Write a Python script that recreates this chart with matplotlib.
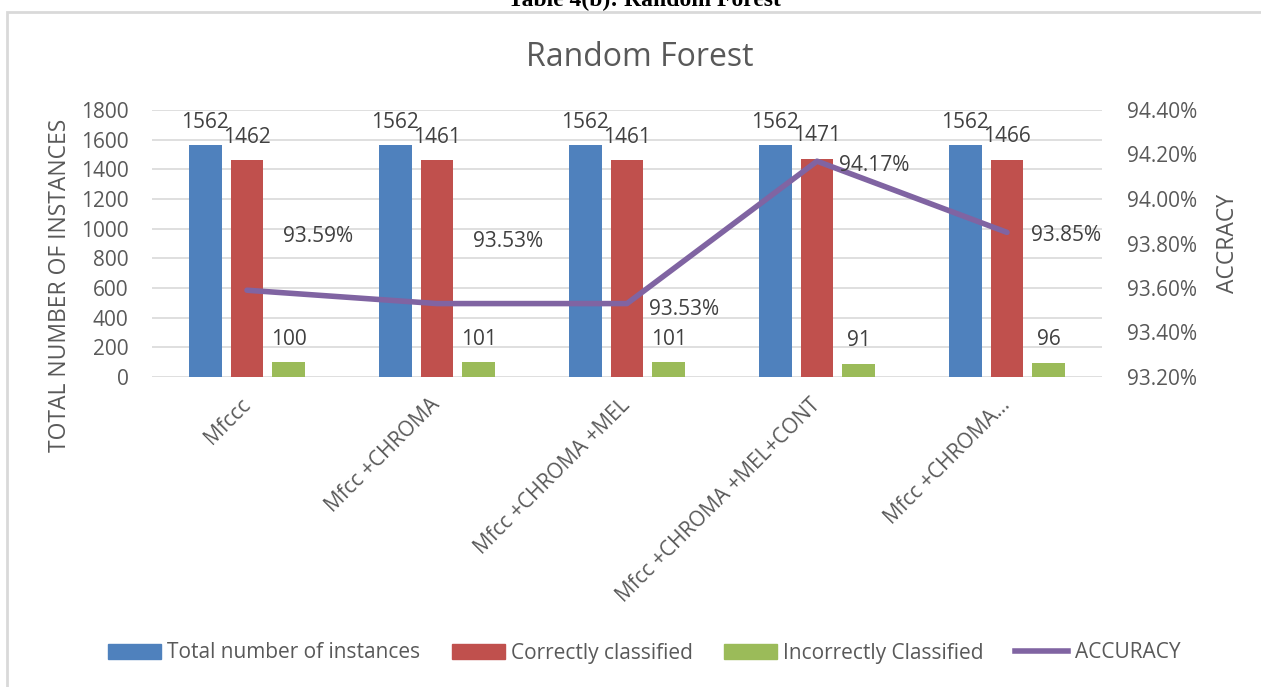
import matplotlib.pyplot as plt
import matplotlib.patches as mpatches
from matplotlib.lines import Line2D
from matplotlib.ticker import FuncFormatter
import numpy as np

plt.rcParams['font.family'] = ['Open Sans', 'DejaVu Sans']

# feature sets and results
categories = ['Mfccc', 'Mfcc +CHROMA', 'Mfcc +CHROMA +MEL',
              'Mfcc +CHROMA +MEL+CONT', 'Mfcc +CHROMA...']
total_instances = [1562, 1562, 1562, 1562, 1562]
correctly_classified = [1462, 1461, 1461, 1471, 1466]
incorrectly_classified = [100, 101, 101, 91, 96]
accuracy = [93.59, 93.53, 93.53, 94.17, 93.85]

# offsets (points) for the accuracy labels
acc_label_offsets = [(26, 39), (26, 45), (16, -4), (16, -3), (17, -2)]

BLUE = '#4F81BD'
RED = '#C0504D'
GREEN = '#9BBB59'
PURPLE = '#8064A2'
GRAY = '#595959'
DARK = '#404040'
GRID = '#D9D9D9'

fig = plt.figure(figsize=(12.61, 6.87), dpi=100)
ax = fig.add_axes([152 / 1261, 1 - 377 / 687, (1102 - 152) / 1261, (377 - 110) / 687])

x = np.arange(len(categories))
width = 0.173
step = 0.22

series = [
    (total_instances, BLUE, -step, 'Total number of instances'),
    (correctly_classified, RED, 0.0, 'Correctly classified'),
    (incorrectly_classified, GREEN, step, 'Incorrectly Classified'),
]
for values, color, off, name in series:
    bars = ax.bar(x + off, values, width, color=color, zorder=2, label=name)
    for b, v in zip(bars, values):
        ax.annotate(f'{v}', (b.get_x() + b.get_width() / 2, v),
                    xytext=(0, 9), textcoords='offset points',
                    ha='center', va='bottom', fontsize=15, color=DARK)

ax.set_xlim(-0.5, len(categories) - 0.5)
ax.set_ylim(0, 1800)
ax.set_yticks(np.arange(0, 1801, 200))
ax.yaxis.grid(True, color=GRID, linewidth=1.2, zorder=0)
ax.set_axisbelow(True)
for s in ax.spines.values():
    s.set_visible(False)
ax.tick_params(axis='both', length=0, labelsize=15, labelcolor=GRAY)
ax.tick_params(axis='y', pad=17)
ax.set_xticks(x)
ax.set_xticklabels(categories, rotation=45, ha='right', va='center',
                   rotation_mode='anchor')
ax.tick_params(axis='x', pad=18)

# accuracy on secondary axis
ax2 = ax.twinx()
ax2.plot(x, accuracy, color=PURPLE, linewidth=4, zorder=3,
         solid_capstyle='round')
for xi, a, off in zip(x, accuracy, acc_label_offsets):
    ax2.annotate(f'{a:.2f}%', (xi, a), xytext=off, textcoords='offset points',
                 ha='left', va='center', fontsize=15, color=DARK)
ax2.set_ylim(93.2, 94.4)
ax2.set_yticks(np.arange(93.2, 94.41, 0.2))
ax2.yaxis.set_major_formatter(FuncFormatter(lambda v, p: f'{v:.2f}%'))
for s in ax2.spines.values():
    s.set_visible(False)
ax2.tick_params(axis='y', length=0, labelsize=15, labelcolor=GRAY, pad=18)

fig.text(60 / 1261, 1 - 285 / 687, 'TOTAL NUMBER OF INSTANCES', rotation=90,
         ha='center', va='center', fontsize=16.5, color=GRAY)
fig.text(1228 / 1261, 1 - 243 / 687, 'ACCRACY', rotation=90,
         ha='center', va='center', fontsize=16.5, color=GRAY)

fig.text(640 / 1261, 1 - 57 / 687, 'Random Forest', ha='center', va='center',
         fontsize=23, color=GRAY)

# caption above the chart box, mostly cropped
fig.text(644 / 1261, 1 - 6 / 687, 'Table 4(b): Random Forest', ha='center',
         va='baseline', fontsize=17, fontweight='bold',
         family=['Liberation Serif', 'DejaVu Serif'], color='black')

# chart box border
fig.patches.append(mpatches.Rectangle((7 / 1261, -0.1), 1.2, 1.1 - 12 / 687,
                                      transform=fig.transFigure, fill=False,
                                      edgecolor=GRID, linewidth=2))

handles = [
    mpatches.Patch(color=BLUE, label='Total number of instances'),
    mpatches.Patch(color=RED, label='Correctly classified'),
    mpatches.Patch(color=GREEN, label='Incorrectly Classified'),
    Line2D([0], [0], color=PURPLE, linewidth=4, label='ACCURACY'),
]
leg = fig.legend(handles=handles, loc='center', ncol=4,
                 bbox_to_anchor=(644 / 1261, 1 - 653 / 687), frameon=False,
                 fontsize=15, handlelength=2.55, handleheight=0.7,
                 columnspacing=1.5, handletextpad=0.3, labelcolor=GRAY)

fig.savefig('out.png', dpi=100)
